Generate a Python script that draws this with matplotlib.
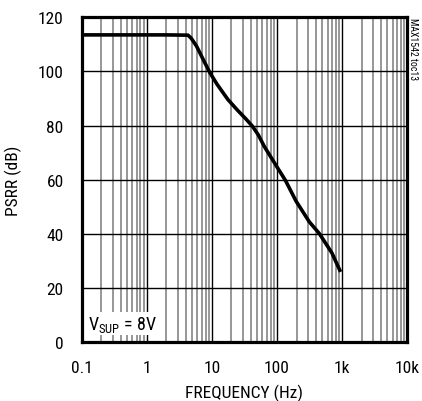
import numpy as np
import matplotlib
matplotlib.use("Agg")
import matplotlib.pyplot as plt
from matplotlib.ticker import FixedLocator, NullFormatter

plt.rcParams['font.family'] = ['Roboto Condensed', 'Liberation Sans', 'DejaVu Sans']
plt.rcParams['mathtext.fontset'] = 'custom'
plt.rcParams['mathtext.rm'] = 'Roboto Condensed'

# PSRR vs frequency
freq = [0.1, 0.3, 1, 2, 4.3, 4.8, 5.3, 5.8, 7.3, 9.3, 12, 17.7, 25, 33, 42, 52, 64,
        100, 135, 196, 314, 447, 700, 950]
psrr = [113.5, 113.5, 113.5, 113.5, 113.4, 112.3, 110.8, 109.4, 104.6, 99.6, 95.3, 89.6,
        85.6, 82.6, 79.8, 76.5, 72.3, 64.8, 59.8, 52.2, 44.5, 40.2, 33, 26]

xticks = [0.1, 1, 10, 100, 1000, 10000]
xlabels = ['0.1', '1', '10', '100', '1k', '10k']
yticks = [0, 20, 40, 60, 80, 100, 120]

fig = plt.figure(figsize=(4.22, 4.02), dpi=100)
ax = fig.add_axes([0.1936, 0.146, 0.771, 0.8085])

ax.set_xscale('log')
ax.set_xlim(0.1, 10000)
ax.set_ylim(0, 120)

minors = [m * 10.0 ** e for e in range(-1, 4) for m in range(2, 10)]
ax.xaxis.set_major_locator(FixedLocator(xticks))
ax.xaxis.set_minor_locator(FixedLocator(minors))
ax.xaxis.set_minor_formatter(NullFormatter())
ax.set_xticks(xticks)
ax.set_xticklabels(xlabels)
ax.set_yticks(yticks)

ax.grid(True, which='major', axis='both', color='black', linewidth=1.0)
ax.grid(True, which='minor', axis='x', color='#7a7a7a', linewidth=1.1)
ax.tick_params(which='both', direction='in', length=0, labelsize=12.5)
ax.tick_params(axis='x', pad=13)
ax.tick_params(axis='y', pad=13)

for s in ax.spines.values():
    s.set_linewidth(2.3)

ax.plot(freq, psrr, color='black', linewidth=2.6, solid_capstyle='butt', zorder=3)

ax.text(0.125, 3.2, r'V$_{\mathrm{SUP}}$ = 8V', fontsize=13, ha='left', va='bottom',
        bbox=dict(facecolor='white', edgecolor='none', pad=1), zorder=4)

ax.set_xlabel('FREQUENCY (Hz)', fontsize=12.5, labelpad=6)
ax.set_ylabel('PSRR (dB)', fontsize=12.5, labelpad=11)

fig.text(0.979, 0.955, 'MAX1542 toc13', rotation=270, fontsize=7, ha='center', va='top')

fig.savefig('out.png', dpi=100)
